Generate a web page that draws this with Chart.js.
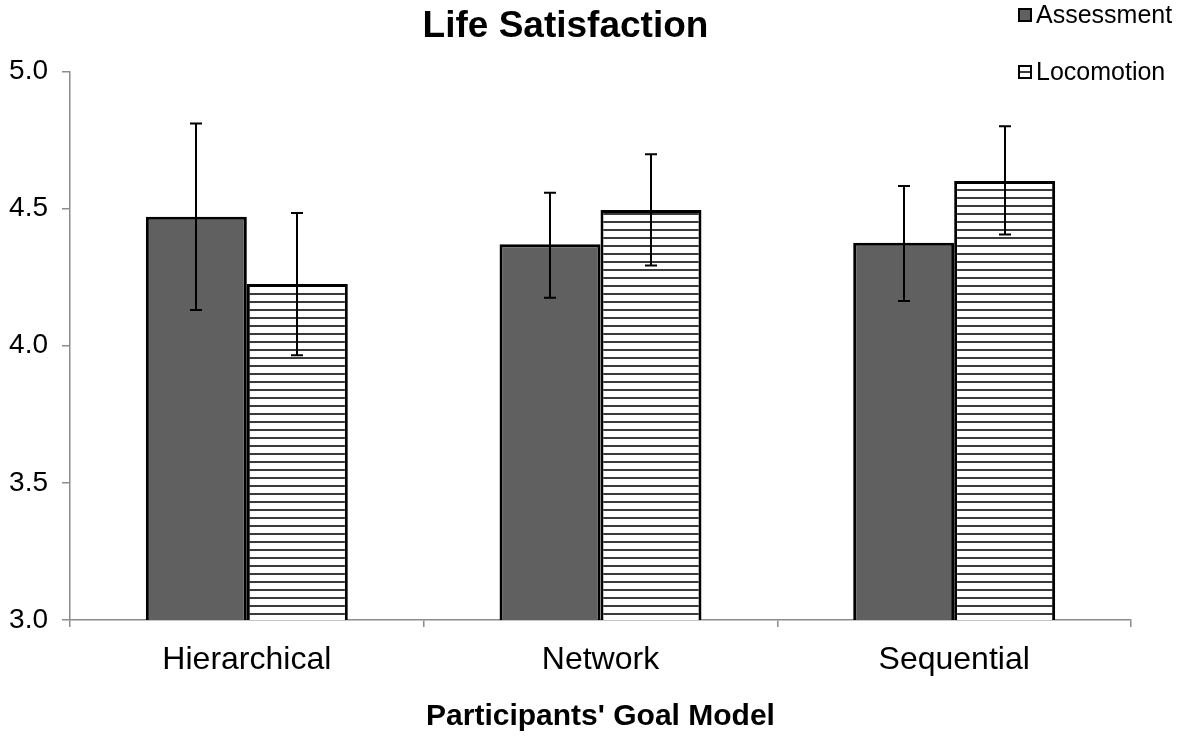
<!DOCTYPE html>
<html>
<head>
<meta charset="utf-8">
<script src="https://cdn.jsdelivr.net/npm/chart.js@4.4.1/dist/chart.umd.min.js"></script>
<style>
  body { margin: 0; background: #fff; }
</style>
</head>
<body>
<canvas id="lifeChart" width="1190" height="737"></canvas>
<script>
const categories = ['Hierarchical', 'Network', 'Sequential'];
const seriesNames = ['Assessment', 'Locomotion'];
const assessment = [4.47, 4.37, 4.375];
const locomotion = [4.225, 4.495, 4.60];
const assessmentLow = [4.13, 4.175, 4.163];
const assessmentHigh = [4.81, 4.558, 4.582];
const locomotionLow = [3.965, 4.292, 4.405];
const locomotionHigh = [4.484, 4.698, 4.80];
const yTicks = [3.0, 3.5, 4.0, 4.5, 5.0];

const FONT = "'Liberation Sans', Arial, sans-serif";

// horizontal stripe fill for the Locomotion bars
function stripes() {
    const c = document.createElement('canvas');
    c.width = 8; c.height = 8;
    const g = c.getContext('2d');
    g.fillStyle = '#fff';
    g.fillRect(0, 0, 8, 8);
    g.fillStyle = '#3a3a3a';
    g.fillRect(0, 5, 8, 2);
    return g.createPattern(c, 'repeat');
}

const errorBars = {
    id: 'errorBars',
    afterDatasetsDraw(chart) {
        const ctx = chart.ctx;
        const y = chart.scales.y;
        const ranges = [[assessmentLow, assessmentHigh], [locomotionLow, locomotionHigh]];
        ctx.save();
        ctx.strokeStyle = '#000';
        ctx.lineWidth = 2;
        chart.data.datasets.forEach(function (ds, d) {
            chart.getDatasetMeta(d).data.forEach(function (bar, i) {
                const lo = y.getPixelForValue(ranges[d][0][i]);
                const hi = y.getPixelForValue(ranges[d][1][i]);
                const x = Math.round(bar.x);
                ctx.beginPath();
                ctx.moveTo(x, lo); ctx.lineTo(x, hi);
                ctx.moveTo(x - 6, lo); ctx.lineTo(x + 6, lo);
                ctx.moveTo(x - 6, hi); ctx.lineTo(x + 6, hi);
                ctx.stroke();
            });
        });
        ctx.restore();
    }
};

// stacked legend in the top right corner
const sideLegend = {
    id: 'sideLegend',
    afterDraw(chart) {
        const ctx = chart.ctx;
        const rows = [15, 72];
        ctx.save();
        ctx.font = '25px ' + FONT;
        ctx.textBaseline = 'middle';
        chart.data.datasets.forEach(function (ds, d) {
            const cy = rows[d];
            ctx.fillStyle = d === 0 ? '#606060' : '#fff';
            ctx.fillRect(1019, cy - 6, 12, 12);
            if (d === 1) {
                ctx.fillStyle = '#3a3a3a';
                ctx.fillRect(1019, cy - 1, 12, 2);
            }
            ctx.strokeStyle = '#000';
            ctx.lineWidth = 2;
            ctx.strokeRect(1019, cy - 6, 12, 12);
            ctx.fillStyle = '#000';
            ctx.fillText(ds.label, 1036, cy + 1);
        });
        ctx.restore();
    }
};

new Chart(document.getElementById('lifeChart'), {
    type: 'bar',
    data: {
        labels: categories,
        datasets: [{
            label: seriesNames[0],
            data: assessment,
            backgroundColor: '#606060',
            borderColor: '#000',
            borderWidth: 3,
            borderSkipped: false
        }, {
            label: seriesNames[1],
            data: locomotion,
            backgroundColor: stripes(),
            borderColor: '#000',
            borderWidth: 3,
            borderSkipped: false
        }]
    },
    options: {
        responsive: false,
        animation: false,
        layout: { padding: { left: 0, right: 59, top: 0, bottom: 0 } },
        datasets: { bar: { categoryPercentage: 0.571, barPercentage: 1.0 } },
        plugins: {
            legend: { display: false },
            tooltip: { enabled: false },
            title: {
                display: true,
                text: 'Life Satisfaction',
                color: '#000',
                font: { family: FONT, size: 37, weight: 'bold' },
                padding: { top: 5, bottom: 22 }
            }
        },
        scales: {
            x: {
                offset: true,
                afterFit: function (s) { s.height = 117; },
                grid: {
                    offset: true,
                    drawOnChartArea: false,
                    drawTicks: true,
                    tickLength: 7,
                    color: '#8c8c8c',
                    lineWidth: 1.5
                },
                border: { color: '#8c8c8c', width: 1.5 },
                ticks: {
                    color: '#000',
                    padding: 14,
                    font: { family: FONT, size: 32 }
                },
                title: {
                    display: true,
                    text: "Participants' Goal Model",
                    color: '#000',
                    font: { family: FONT, size: 30, weight: 'bold' },
                    padding: { top: 20, bottom: 2 }
                }
            },
            y: {
                min: 3,
                max: 5,
                afterFit: function (s) { s.width = 70; },
                afterBuildTicks: function (s) {
                    s.ticks = yTicks.map(function (v) { return { value: v }; });
                },
                grid: {
                    drawOnChartArea: false,
                    drawTicks: true,
                    tickLength: 8,
                    color: '#8c8c8c',
                    lineWidth: 1.5
                },
                border: { color: '#8c8c8c', width: 1.5 },
                ticks: {
                    color: '#000',
                    padding: 14,
                    font: { family: FONT, size: 28 },
                    callback: function (v) { return Number(v).toFixed(1); }
                }
            }
        }
    },
    plugins: [errorBars, sideLegend]
});
</script>
</body>
</html>
